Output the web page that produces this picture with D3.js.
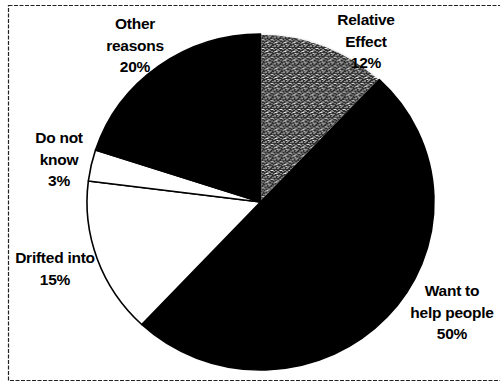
<!DOCTYPE html>
<html>
<head>
<meta charset="utf-8">
<script src="https://cdn.jsdelivr.net/npm/d3@7"></script>
<style>
  html, body { margin: 0; padding: 0; background: #fff; }
  svg { display: block; }
  text { font-family: "Liberation Sans", Arial, sans-serif; font-weight: bold; fill: #000; letter-spacing: -0.25px; }
</style>
</head>
<body>
<svg id="chart" width="500" height="382"></svg>
<script>
// Reasons for choosing the job, in percent (clockwise from 12 o'clock)
const categories = ["Relative Effect", "Want to help people", "Drifted into", "Do not know", "Other reasons"];
const values = [12, 50, 15, 3, 20];
// Label lines for each slice
const labelLines = [
  ["Relative", "Effect", "12%"],
  ["Want to", "help people", "50%"],
  ["Drifted into", "15%"],
  ["Do not", "know", "3%"],
  ["Other", "reasons", "20%"]
];
const fills = ["url(#stipple)", "#000", "#fff", "#fff", "#000"];

const svg = d3.select("#chart");

// Stippled grey texture for the first slice
const defs = svg.append("defs");
const pat = defs.append("pattern")
  .attr("id", "stipple")
  .attr("patternUnits", "userSpaceOnUse")
  .attr("width", 9).attr("height", 9);
pat.append("rect").attr("width", 9).attr("height", 9).attr("fill", "#2e2e2e");
const specks = [[0,0,1,1],[3,1,1,1],[5,0,1,2],[1,3,2,1],[4,4,1,1],[6,3,1,1],[0,5,1,1],[2,6,1,1],
                [5,6,2,1],[3,3,1,1],[8,1,1,1],[7,5,1,2],[1,8,1,1],[4,7,1,1],[7,8,2,1],[8,4,1,1]];
specks.forEach(s => pat.append("rect")
  .attr("x", s[0]).attr("y", s[1]).attr("width", s[2]).attr("height", s[3])
  .attr("fill", "#ececec"));

// Dashed outer frame
svg.append("rect")
  .attr("x", 8.5).attr("y", 5.5).attr("width", 500).attr("height", 375)
  .attr("fill", "none").attr("stroke", "#222").attr("stroke-width", 1.2)
  .attr("stroke-dasharray", "4,1.5");

// Pie (drawn slightly oval)
const cx = 260.5, cy = 202, rx = 173.5, ry = 168;
const pie = d3.pie().sort(null).value(d => d)(values);
const arc = d3.arc().innerRadius(0).outerRadius(rx);

const g = svg.append("g")
  .attr("transform", `translate(${cx},${cy}) scale(1,${ry / rx})`);

g.selectAll("path.slice")
  .data(pie)
  .join("path")
  .attr("class", "slice")
  .attr("d", arc)
  .attr("fill", (d, i) => fills[i])
  .attr("stroke", (d, i) => i === 0 ? "#f4f4f4" : "#000")
  .attr("stroke-width", 1.6)
  .attr("stroke-linejoin", "round");

// Labels placed around the pie
const labelPos = [
  [366, 25],
  [452, 296],
  [55, 263],
  [59, 143],
  [135, 29]
];
const lineH = 21.5;

const labels = svg.append("g").selectAll("text")
  .data(pie)
  .join("text")
  .attr("text-anchor", "middle")
  .attr("font-size", 15.5)
  .attr("x", (d, i) => labelPos[i][0])
  .attr("y", (d, i) => labelPos[i][1]);

labels.each(function(d, i) {
  const t = d3.select(this);
  const lines = labelLines[i].slice(0, -1).concat([d.data + "%"]);
  lines.forEach((ln, k) => {
    t.append("tspan")
      .attr("x", labelPos[i][0])
      .attr("dy", k === 0 ? 0 : lineH)
      .text(ln);
  });
});
</script>
</body>
</html>
